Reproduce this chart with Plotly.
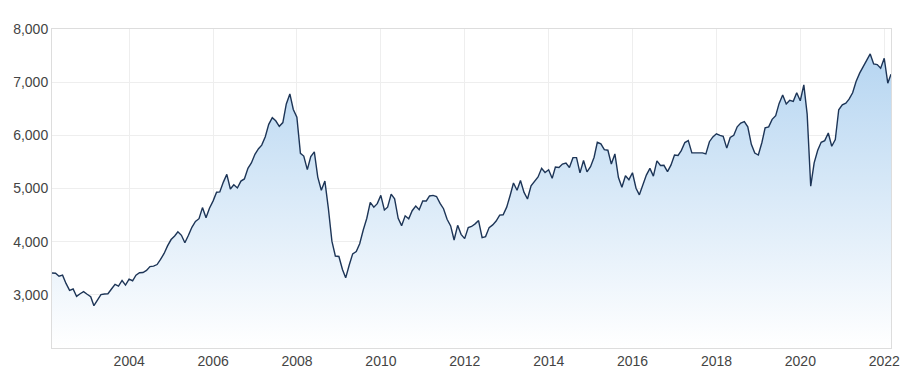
import plotly.graph_objects as go
import pandas as pd

# Monthly index closes, Feb 2002 - Feb 2022
start_month = "2002-02-28"
values_2002 = [3410, 3405, 3350, 3370, 3215, 3085, 3110, 2970, 3020, 3060, 3010]          # Feb-Dec
values_2003 = [2965, 2795, 2890, 3005, 3015, 3020, 3109, 3196, 3165, 3270, 3184, 3295]
values_2004 = [3265, 3370, 3416, 3420, 3460, 3532, 3541, 3570, 3665, 3778, 3920, 4040]
values_2005 = [4106, 4186, 4120, 3980, 4120, 4270, 4380, 4432, 4641, 4450, 4630, 4763]
values_2006 = [4929, 4935, 5120, 5265, 4990, 5070, 5010, 5140, 5180, 5380, 5480, 5644]
values_2007 = [5749, 5816, 5975, 6206, 6333, 6274, 6170, 6240, 6590, 6779, 6487, 6340]
values_2008 = [5660, 5610, 5356, 5600, 5690, 5215, 4967, 5140, 4631, 4010, 3730, 3722]
values_2009 = [3478, 3320, 3560, 3770, 3813, 3960, 4220, 4440, 4740, 4647, 4715, 4871]
values_2010 = [4596, 4649, 4893, 4807, 4440, 4301, 4486, 4430, 4582, 4670, 4600, 4765]
values_2011 = [4765, 4860, 4870, 4850, 4720, 4620, 4421, 4297, 4031, 4308, 4138, 4057]
values_2012 = [4264, 4286, 4335, 4396, 4077, 4095, 4265, 4316, 4387, 4500, 4506, 4649]
values_2013 = [4879, 5104, 4967, 5150, 4926, 4803, 5052, 5135, 5218, 5380, 5300, 5352]
values_2014 = [5191, 5405, 5395, 5460, 5480, 5396, 5580, 5580, 5293, 5527, 5313, 5411]
values_2015 = [5588, 5870, 5840, 5730, 5720, 5459, 5650, 5207, 5022, 5239, 5166, 5296]
values_2016 = [5005, 4881, 5083, 5253, 5378, 5233, 5520, 5433, 5436, 5318, 5440, 5630]
values_2017 = [5621, 5712, 5865, 5900, 5670, 5670, 5670, 5670, 5650, 5880, 5970, 6030]
values_2018 = [6000, 5980, 5759, 5960, 6000, 6160, 6230, 6260, 6160, 5830, 5667, 5630]
values_2019 = [5865, 6140, 6160, 6300, 6370, 6600, 6760, 6590, 6660, 6640, 6800, 6650]
values_2020 = [6950, 6400, 5044, 5481, 5720, 5870, 5900, 6044, 5794, 5919, 6481, 6575]
values_2021 = [6606, 6680, 6800, 7012, 7169, 7281, 7406, 7531, 7344, 7331, 7262, 7450]
values_2022 = [6981, 7150]  # Jan-Feb

values = (values_2002 + values_2003 + values_2004 + values_2005 + values_2006 + values_2007
          + values_2008 + values_2009 + values_2010 + values_2011 + values_2012 + values_2013
          + values_2014 + values_2015 + values_2016 + values_2017 + values_2018 + values_2019
          + values_2020 + values_2021 + values_2022)
dates = pd.date_range(start_month, periods=len(values), freq="ME")

x_ticks = [f"{y}-01-01" for y in range(2004, 2023, 2)]
x_tick_labels = [str(y) for y in range(2004, 2023, 2)]
y_ticks = [3000, 4000, 5000, 6000, 7000, 8000]
y_tick_labels = ["3,000", "4,000", "5,000", "6,000", "7,000", "8,000"]

fig = go.Figure()
fig.add_trace(go.Scatter(
    x=dates, y=values, mode="lines",
    line=dict(color="#1d3557", width=1.4),
    fill="tozeroy",
    fillgradient=dict(type="vertical",
                      colorscale=[[0, "rgb(255,255,255)"], [1, "rgb(176,210,240)"]],
                      start=2000, stop=8000),
    hoverinfo="skip",
))

font = dict(family="Liberation Sans, Arial, sans-serif", size=14, color="#444444")
fig.update_layout(
    width=906, height=367,
    margin=dict(l=52, r=15, t=29, b=19),
    paper_bgcolor="white", plot_bgcolor="white",
    showlegend=False,
    font=font,
    xaxis=dict(
        type="date",
        range=[dates[0], dates[-1]],
        tickvals=x_ticks, ticktext=x_tick_labels,
        showgrid=True, gridcolor="#eeeeee", gridwidth=1,
        showline=True, linecolor="#dddddd", linewidth=1, mirror=True,
        ticks="", tickfont=font, automargin=False, zeroline=False,
    ),
    yaxis=dict(
        range=[2000, 8000],
        tickvals=y_ticks, ticktext=y_tick_labels,
        showgrid=True, gridcolor="#eeeeee", gridwidth=1,
        showline=True, linecolor="#dddddd", linewidth=1, mirror=True,
        ticks="", tickfont=font, automargin=False, zeroline=False,
    ),
)

fig.write_html("out.html", config={"displayModeBar": False},
               post_script="document.body.style.margin='0px';document.body.style.overflow='hidden';")
